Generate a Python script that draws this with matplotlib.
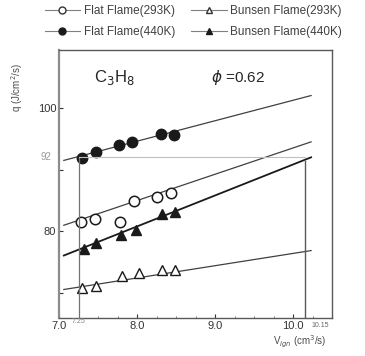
import numpy as np
import matplotlib
matplotlib.use('Agg')
import matplotlib.pyplot as plt

plt.rcParams['font.family'] = ['Liberation Sans', 'DejaVu Sans']

# values
flat293_x = [7.28, 7.46, 7.78, 7.96, 8.26, 8.44]
flat293_q = [81.5, 82.0, 81.5, 85.0, 85.5, 86.3]
flat440_x = [7.29, 7.47, 7.77, 7.94, 8.31, 8.47]
flat440_q = [91.9, 92.8, 94.0, 94.5, 95.8, 95.6]
bun293_x = [7.29, 7.47, 7.81, 8.03, 8.32, 8.49]
bun293_q = [70.9, 71.2, 72.8, 73.2, 73.7, 73.8]
bun440_x = [7.32, 7.47, 7.79, 7.99, 8.32, 8.49]
bun440_q = [77.2, 78.2, 79.35, 80.2, 82.9, 83.1]

# fitted lines (start / end)
fit_x = [7.06, 10.23]
flat293_fit = [81.0, 94.5]
flat440_fit = [91.5, 102.0]
bun293_fit = [70.6, 76.9]
bun440_fit = [76.1, 92.0]

v_flat = 7.25
v_bun = 10.15
q_ref = 92.0

fig = plt.figure(figsize=(3.65, 3.56), dpi=100)
ax = fig.add_axes([0.162, 0.107, 0.748, 0.753])

ax.plot(fit_x, flat293_fit, color='0.25', lw=0.9)
ax.plot(fit_x, flat440_fit, color='0.25', lw=0.9)
ax.plot(fit_x, bun293_fit, color='0.25', lw=0.9)
ax.plot(fit_x, bun440_fit, color='0.1', lw=1.3)

ax.plot(flat293_x, flat293_q, 'o', ms=7.5, mfc='white', mec='0.1', mew=1.1)
ax.plot(flat440_x, flat440_q, 'o', ms=7.5, mfc='0.1', mec='0.1')
ax.plot(bun293_x, bun293_q, '^', ms=6.5, mfc='white', mec='0.1', mew=1.0)
ax.plot(bun440_x, bun440_q, '^', ms=6.5, mfc='0.1', mec='0.1')

# reference construction lines
ax.plot([v_flat, v_flat], [66, q_ref], color='0.45', lw=0.9)
ax.plot([v_flat, v_bun], [q_ref, q_ref], color='0.75', lw=0.8)
ax.plot([v_bun, v_bun], [66, q_ref - 0.6], color='0.35', lw=1.0)

# legend handles above the axes
h1, = ax.plot([], [], '-o', color='0.5', lw=0.8, ms=5, mfc='white', mec='0.2')
h2, = ax.plot([], [], '-o', color='0.5', lw=0.8, ms=5, mfc='0.1', mec='0.1')
h3, = ax.plot([], [], '-^', color='0.5', lw=0.8, ms=5, mfc='white', mec='0.2')
h4, = ax.plot([], [], '-^', color='0.5', lw=0.8, ms=5, mfc='0.1', mec='0.1')
fig.legend([h1, h2, h3, h4],
           ['Flat Flame(293K)', 'Flat Flame(440K)',
            'Bunsen Flame(293K)', 'Bunsen Flame(440K)'],
           ncol=2, loc='upper center', bbox_to_anchor=(0.53, 1.015),
           frameon=False, fontsize=8.5, handlelength=3.0,
           columnspacing=1.4, labelspacing=0.75, handletextpad=0.3,
           labelcolor='0.25')

ax.set_xlim(7.0, 10.5)
ax.set_ylim(66, 109.4)
ax.set_xticks([7.0, 8.0, 9.0, 10.0])
ax.set_xticklabels(['7.0', '8.0', '9.0', '10.0'])
ax.set_xticks(np.arange(7.0, 10.5, 0.25), minor=True)
ax.set_yticks([70, 80, 90, 100])
ax.set_yticklabels(['', '80', '', '100'])
ax.tick_params(direction='in', length=3, labelsize=8, pad=2, colors='0.2')
ax.tick_params(which='minor', direction='in', length=1.5, colors='0.4')

ax.text(v_flat, 66, '7.25', fontsize=5, color='0.5', ha='center', va='top',
        transform=ax.transData)
ax.text(v_bun + 0.08, 65.3, '10.15', fontsize=5, color='0.4', ha='left', va='top')
ax.text(6.9, q_ref, '92', fontsize=7, color='0.6', ha='right', va='center')

for s in ax.spines.values():
    s.set_color('0.35')
    s.set_linewidth(1.0)
ax.spines['left'].set_color('0.55')
ax.spines['left'].set_linewidth(1.6)

ax.text(7.45, 105.0, 'C$_3$H$_8$', fontsize=12, color='0.15', va='center')
ax.text(8.95, 105.0, '$\\phi$ =0.62', fontsize=11, color='0.15', va='center')

ax.set_ylabel('q (J/cm$^2$/s)', fontsize=7, color='0.3')
ax.yaxis.set_label_coords(-0.125, 0.86)
ax.set_xlabel('V$_{ign}$ (cm$^3$/s)', fontsize=7, color='0.3')
ax.xaxis.set_label_coords(0.88, -0.06)

fig.savefig('out.png', dpi=100)
